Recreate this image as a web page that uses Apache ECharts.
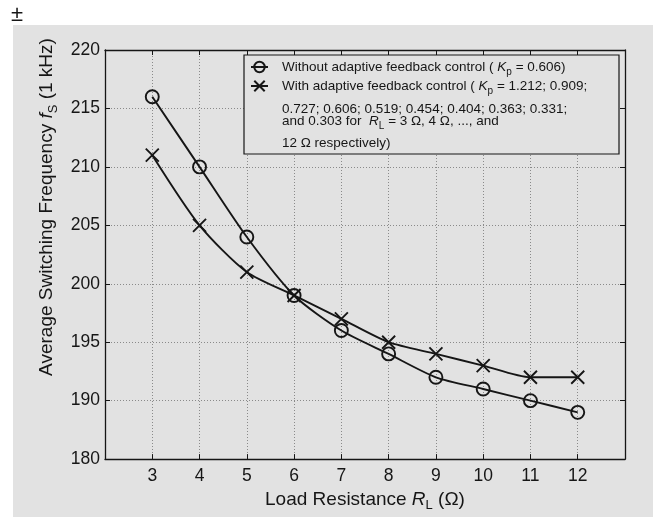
<!DOCTYPE html>
<html>
<head>
<meta charset="utf-8">
<script src="https://cdn.jsdelivr.net/npm/echarts@6/dist/echarts.min.js"></script>
<style>
  html, body { margin: 0; padding: 0; background: #fff; }
  #chart { width: 653px; height: 517px; }
</style>
</head>
<body>
<div id="chart"></div>
<script>
// Load resistance R_L (ohm) on the x axis
const loadResistance = [3, 4, 5, 6, 7, 8, 9, 10, 11, 12];
// Average switching frequency (kHz)
const freqWithout = [216, 210, 204, 199, 196, 194, 192, 191, 190, 189];
const freqWith = [211, 205, 201, 199, 197, 195, 194, 193, 192, 192];
// y axis bottom is printed as 180 in the original (broken axis)
const yMin = 185;
const yMax = 220;
const yBottomLabel = '180';

const legendExtra = [
  '0.727; 0.606; 0.519; 0.454; 0.404; 0.363; 0.331;',
  'and 0.303 for  {i|R}{sub|L} = 3 Ω, 4 Ω, ..., and',
  '12 Ω respectively)'
];

const BG = '#e2e2e2';
const INK = '#161616';
const FONT = "'Liberation Sans', Arial, sans-serif";
const LEG_FS = 13.5;

const chart = echarts.init(document.getElementById('chart'));

const crossSymbol = 'path://M0,0L10,10M10,0L0,10';
const subRich = {
  i: { fontStyle: 'italic', fontSize: LEG_FS, fontFamily: FONT, color: INK },
  sub: { fontSize: 10, padding: [10, 0, 0, 0], fontFamily: FONT, color: INK }
};
const nameRich = {
  i: { fontStyle: 'italic', fontSize: 19, fontFamily: FONT, color: INK },
  sub: { fontSize: 13, padding: [12, 0, 0, 0], fontFamily: FONT, color: INK }
};

const frameTick = { show: true, inside: true, length: 5, lineStyle: { color: INK, width: 1 } };
const frameLine = { show: true, lineStyle: { color: INK, width: 1.3 } };
const gridDots = {
  show: true, showMinLine: false, showMaxLine: false,
  lineStyle: { color: '#8a8a8a', type: [1, 2], width: 1 }
};

const option = {
  backgroundColor: BG,
  animation: false,
  grid: { left: 105, right: 28, top: 50, bottom: 57 },
  xAxis: [
    {
      type: 'value',
      min: 2,
      max: 13,
      interval: 1,
      axisLine: frameLine,
      axisTick: frameTick,
      axisLabel: {
        color: INK, fontSize: 17.5, fontFamily: FONT, margin: 8,
        formatter: v => (v < 3 || v > 12 ? '' : v)
      },
      splitLine: gridDots,
      name: 'Load Resistance {i|R}{sub|L} (Ω)',
      nameLocation: 'middle',
      nameGap: 23,
      nameTextStyle: { color: INK, fontSize: 19, fontFamily: FONT, rich: nameRich }
    },
    {
      type: 'value',
      position: 'top',
      min: 2,
      max: 13,
      interval: 1,
      axisLine: frameLine,
      axisTick: frameTick,
      axisLabel: { show: false },
      splitLine: { show: false }
    }
  ],
  yAxis: [
    {
      type: 'value',
      min: yMin,
      max: yMax,
      interval: 5,
      axisLine: frameLine,
      axisTick: frameTick,
      axisLabel: {
        color: INK, fontSize: 17.5, fontFamily: FONT, margin: 5,
        formatter: v => (v === yMin ? yBottomLabel : v)
      },
      splitLine: gridDots
    },
    {
      type: 'value',
      position: 'right',
      min: yMin,
      max: yMax,
      interval: 5,
      axisLine: frameLine,
      axisTick: frameTick,
      axisLabel: { show: false },
      splitLine: { show: false }
    }
  ],
  legend: {
    orient: 'vertical',
    left: 250,
    top: 60,
    padding: 0,
    itemGap: 2,
    itemWidth: 17,
    itemHeight: 13,
    selectedMode: false,
    data: ['Without adaptive feedback control', 'With adaptive feedback control'],
    formatter: name => name === 'Without adaptive feedback control'
      ? name + ' ( {i|K}{sub|p} = 0.606)'
      : name + ' ( {i|K}{sub|p} = 1.212; 0.909;',
    textStyle: { color: INK, fontSize: LEG_FS, fontFamily: FONT, padding: [0, 0, 0, 9], rich: subRich }
  },
  graphic: [
    { type: 'rect', silent: true, z: -1, shape: { x: 0, y: 0, width: 653, height: 25 }, style: { fill: '#fff' } },
    { type: 'rect', silent: true, z: -1, shape: { x: 0, y: 0, width: 13, height: 517 }, style: { fill: '#fff' } },
    { type: 'text', silent: true, z: 5, x: 11, y: 4, style: { text: '±', fontSize: 22, fontFamily: FONT, fill: INK } },
    {
      type: 'rect', silent: true, z: 3,
      shape: { x: 244, y: 55, width: 375, height: 99 },
      style: { fill: BG, stroke: INK, lineWidth: 1.2 }
    },
    {
      type: 'text', silent: true, z: 5, x: 282, y: 102,
      style: { text: legendExtra[0], fontSize: LEG_FS, fontFamily: FONT, fill: INK }
    },
    {
      type: 'text', silent: true, z: 5, x: 282, y: 111,
      style: { text: legendExtra[1], fontSize: LEG_FS, fontFamily: FONT, fill: INK, rich: subRich }
    },
    {
      type: 'text', silent: true, z: 5, x: 282, y: 136,
      style: { text: legendExtra[2], fontSize: LEG_FS, fontFamily: FONT, fill: INK }
    },
    {
      type: 'text', silent: true, z: 5, x: 47, y: 207, rotation: Math.PI / 2,
      style: {
        text: 'Average Switching Frequency {i|f}{sub|S} (1 kHz)',
        fontSize: 19, fontFamily: FONT, fill: INK,
        align: 'center', verticalAlign: 'middle',
        rich: nameRich
      }
    }
  ],
  series: [
    {
      name: 'Without adaptive feedback control',
      type: 'line',
      smooth: 0.25,
      data: loadResistance.map((x, i) => [x, freqWithout[i]]),
      symbol: 'circle',
      symbolSize: 13,
      lineStyle: { color: INK, width: 1.9 },
      itemStyle: { color: 'rgba(0,0,0,0)', borderColor: INK, borderWidth: 1.9 }
    },
    {
      name: 'With adaptive feedback control',
      type: 'line',
      smooth: 0.25,
      data: loadResistance.map((x, i) => [x, freqWith[i]]),
      symbol: crossSymbol,
      symbolSize: 13,
      lineStyle: { color: INK, width: 1.9 },
      itemStyle: { color: 'rgba(0,0,0,0)', borderColor: INK, borderWidth: 1.9 }
    }
  ]
};

chart.setOption(option);
</script>
</body>
</html>
